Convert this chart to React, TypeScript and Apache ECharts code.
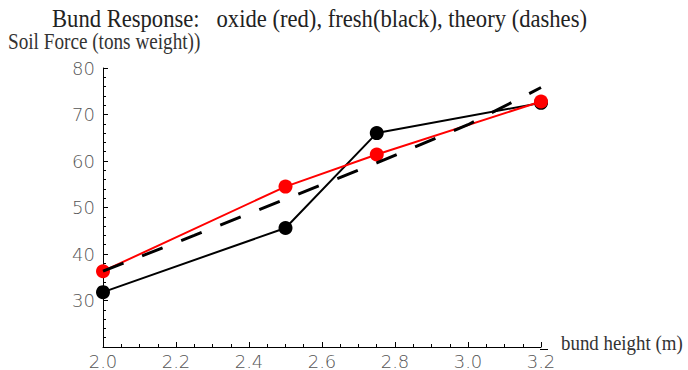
import React, { useEffect, useRef } from "react";
import * as echarts from "echarts";

const bundHeights = [2.0, 2.5, 2.75, 3.2];
const oxideForce = [36.3, 54.5, 61.4, 72.8];
const freshForce = [31.8, 45.6, 66.0, 72.5];
const theoryHeights = [2.0, 2.25, 2.5, 2.75, 3.0, 3.2];
const theoryForce = [36.3, 44.0, 51.8, 59.6, 67.8, 75.8];

const titleText = "Bund Response:   oxide (red), fresh(black), theory (dashes)";
const yAxisTitle = "Soil Force (tons weight))";
const xAxisTitle = "bund height (m)";

const SERIF = "'Liberation Serif', 'DejaVu Serif', serif";
const SANS = "'DejaVu Sans', sans-serif";

export default function App() {
  const ref = useRef<HTMLDivElement>(null);
  useEffect(() => {
    if (!ref.current) return;
    document.body.style.margin = "0";
    document.body.style.overflow = "hidden";
    const chart = echarts.init(ref.current, undefined, { renderer: "svg" });
    const pair = (xs: number[], ys: number[]) => xs.map((x, i) => [x, ys[i]]);
    chart.setOption({
      animation: false,
      backgroundColor: "#ffffff",
      graphic: [
        {
          type: "text",
          x: 52,
          y: 18,
          scaleX: 0.87,
          style: { text: titleText, font: `26px ${SERIF}`, fill: "#222", verticalAlign: "middle" },
        },
        {
          type: "text",
          x: 8,
          y: 41,
          scaleX: 0.8,
          style: { text: yAxisTitle, font: `24px ${SERIF}`, fill: "#333", verticalAlign: "middle" },
        },
        {
          type: "text",
          x: 561,
          y: 343,
          scaleX: 0.9,
          style: { text: xAxisTitle, font: `21px ${SERIF}`, fill: "#333", verticalAlign: "middle" },
        },
        {
          type: "line",
          shape: { x1: 540, y1: 349.5, x2: 548, y2: 349.5 },
          style: { stroke: "#000", lineWidth: 1 },
        },
      ],
      grid: { left: 103, top: 68, right: 147, bottom: 21, containLabel: false },
      xAxis: {
        type: "value",
        min: 2.0,
        max: 3.2,
        interval: 0.2,
        axisLine: { onZero: false, lineStyle: { color: "#000", width: 1 } },
        axisTick: { inside: true, length: 5, lineStyle: { color: "#000" } },
        minorTick: { show: true, splitNumber: 4, length: 3, lineStyle: { color: "#000" } },
        splitLine: { show: false },
        axisLabel: {
          formatter: (v: number) => v.toFixed(1),
          fontFamily: SANS,
          fontWeight: 200,
          fontSize: 18,
          lineHeight: 18,
          color: "#555",
          margin: 5,
        },
      },
      yAxis: {
        type: "value",
        min: 20,
        max: 80,
        interval: 10,
        axisLine: { show: true, onZero: false, lineStyle: { color: "#000", width: 1 } },
        axisTick: { show: true, inside: true, length: 5, lineStyle: { color: "#000" } },
        minorTick: { show: true, splitNumber: 5, length: 3, lineStyle: { color: "#000" } },
        splitLine: { show: false },
        axisLabel: {
          formatter: (v: number) => (v === 20 ? "" : String(v)),
          fontFamily: SANS,
          fontWeight: 200,
          fontSize: 18,
          color: "#555",
          margin: 8,
        },
      },
      series: [
        {
          type: "line",
          data: pair(bundHeights, freshForce),
          symbol: "circle",
          symbolSize: 14,
          lineStyle: { color: "#000", width: 2 },
          itemStyle: { color: "#000" },
          z: 2,
        },
        {
          type: "line",
          data: pair(bundHeights, oxideForce),
          symbol: "circle",
          symbolSize: 14,
          lineStyle: { color: "#ff0000", width: 2 },
          itemStyle: { color: "#ff0000" },
          z: 3,
        },
        {
          type: "line",
          data: pair(theoryHeights, theoryForce),
          symbol: "none",
          lineStyle: { color: "#000", width: 3, type: [22, 20] },
          z: 4,
        },
      ],
    });
    return () => chart.dispose();
  }, []);
  return (
    <div
      ref={ref}
      style={{ position: "fixed", left: 0, top: 0, width: 688, height: 370, overflow: "hidden" }}
    />
  );
}
